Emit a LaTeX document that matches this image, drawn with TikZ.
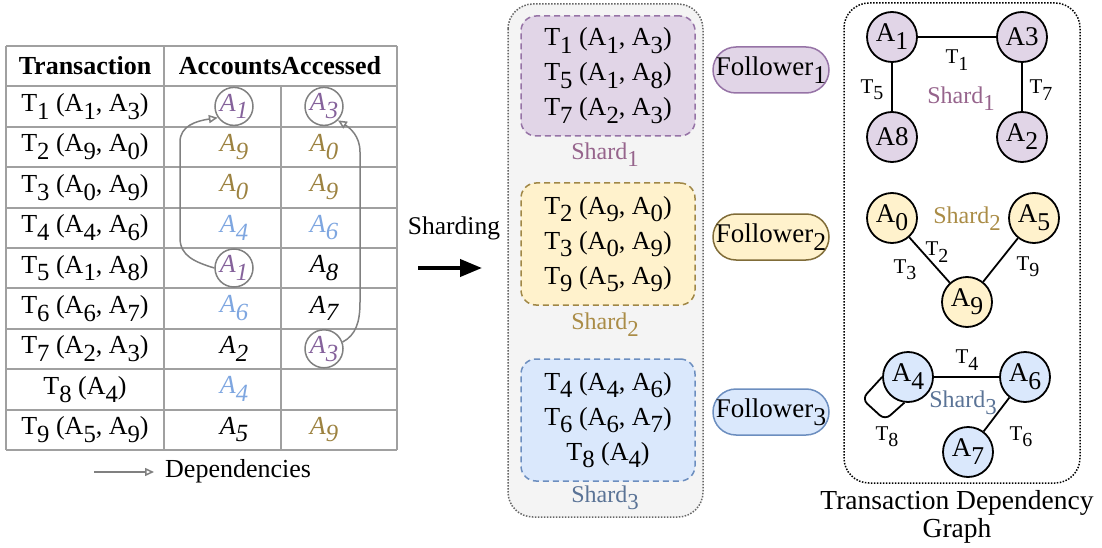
\documentclass[tikz,border=0pt]{standalone}
\usepackage{fontspec}
\setmainfont{Liberation Serif}
\newfontfamily\serf{Liberation Serif}
\usepackage{graphicx}
\usetikzlibrary{arrows.meta}
\newcommand\subs[1]{\raisebox{-0.3em}{\scalebox{0.95}{#1}}}
\definecolor{purT}{RGB}{133,98,155}
\definecolor{purL}{RGB}{150,100,140}
\definecolor{golT}{RGB}{156,130,64}
\definecolor{golL}{RGB}{170,140,70}
\definecolor{bluT}{RGB}{126,166,224}
\definecolor{bluL}{RGB}{90,115,150}
\definecolor{purF}{HTML}{E1D5E7}
\definecolor{purS}{HTML}{9673A6}
\definecolor{golF}{HTML}{FFF2CC}
\definecolor{golS}{RGB}{160,135,70}
\definecolor{bluF}{HTML}{DAE8FC}
\definecolor{bluS}{HTML}{6C8EBF}
\definecolor{gridc}{RGB}{160,160,160}
\definecolor{depc}{RGB}{128,128,128}
\definecolor{bgc}{HTML}{F4F4F4}
\begin{document}
\begin{tikzpicture}[x=1pt,y=-1pt,
  gridline/.style={draw=gridc,line width=2},
  tx/.style={font=\serf\fontsize{26}{30}\selectfont,inner sep=0},
  hdr/.style={font=\serf\fontsize{26}{30}\selectfont\bfseries,inner sep=0},
  cell/.style={font=\serf\fontsize{26}{30}\selectfont\itshape,inner sep=0},
  circ/.style={cell,circle,draw=depc,line width=1.5,minimum size=38},
  dep/.style={draw=depc,line width=1.5,-{Triangle[open,length=9,width=8]}},
  shbox/.style={rounded corners=15,line width=1.5,dash pattern=on 6 off 4,minimum width=174,align=center,font=\serf\fontsize{26}{35}\selectfont},
  shlab/.style={font=\serf\fontsize{24}{28}\selectfont,inner sep=0},
  fol/.style={rounded corners=23,minimum width=116,minimum height=46,line width=1.5,inner sep=0,font=\serf\fontsize{27}{30}\selectfont},
  gnode/.style={circle,draw=black,line width=1.8,minimum size=50,inner sep=0,font=\serf\fontsize{27}{30}\selectfont},
  gedge/.style={draw=black,line width=1.8},
  elab/.style={font=\serf\fontsize{21}{24}\selectfont,inner sep=0}]
\useasboundingbox (0,0) rectangle (1102,548);
% ---------- table ----------
\foreach \k in {0,...,10} \draw[gridline] (6,{46+40.4*\k}) -- (397,{46+40.4*\k});
\draw[gridline] (6,46) -- (6,450);
\draw[gridline] (164,46) -- (164,450);
\draw[gridline] (397,46) -- (397,450);
\draw[gridline] (281,86.4) -- (281,450);
\node[hdr] (h1) at (85,66) {Transaction};
\node[hdr] (h2) at (280,66) {AccountsAccessed};
\node[tx] (t1) at (85,106.4) {T\subs{1} (A\subs{1}, A\subs{3})};
\node[tx] (t2) at (85,146.8) {T\subs{2} (A\subs{9}, A\subs{0})};
\node[tx] (t3) at (85,187.2) {T\subs{3} (A\subs{0}, A\subs{9})};
\node[tx] (t4) at (85,227.6) {T\subs{4} (A\subs{4}, A\subs{6})};
\node[tx] (t5) at (85,268) {T\subs{5} (A\subs{1}, A\subs{8})};
\node[tx] (t6) at (85,308.4) {T\subs{6} (A\subs{6}, A\subs{7})};
\node[tx] (t7) at (85,348.8) {T\subs{7} (A\subs{2}, A\subs{3})};
\node[tx] (t8) at (85,389.2) {T\subs{8} (A\subs{4})};
\node[tx] (t9) at (85,429.6) {T\subs{9} (A\subs{5}, A\subs{9})};
\node[circ,text=purT] (c11) at (234,106.4) {A\subs{1}};
\node[circ,text=purT] (c13) at (324,106.4) {A\subs{3}};
\node[cell,text=golT] (c21) at (234,146.8) {A\subs{9}};
\node[cell,text=golT] (c22) at (324,146.8) {A\subs{0}};
\node[cell,text=golT] (c31) at (234,187.2) {A\subs{0}};
\node[cell,text=golT] (c32) at (324,187.2) {A\subs{9}};
\node[cell,text=bluT] (c41) at (234,227.6) {A\subs{4}};
\node[cell,text=bluT] (c42) at (324,227.6) {A\subs{6}};
\node[circ,text=purT] (c51) at (234,268) {A\subs{1}};
\node[cell] (c52) at (324,268) {A\subs{8}};
\node[cell,text=bluT] (c61) at (234,308.4) {A\subs{6}};
\node[cell] (c62) at (324,308.4) {A\subs{7}};
\node[cell] (c71) at (234,348.8) {A\subs{2}};
\node[circ,text=purT] (c73) at (324,348.8) {A\subs{3}};
\node[cell,text=bluT] (c81) at (234,389.2) {A\subs{4}};
\node[cell] (c91) at (234,429.6) {A\subs{5}};
\node[cell,text=golT] (c92) at (324,429.6) {A\subs{9}};
\draw[dep] (c51.west) .. controls (195,262) and (180,256) .. (180,238) -- (180,142) .. controls (180,126) and (196,121) .. (c11.215);
\draw[dep] (c73.20) .. controls (356,335) and (360,322) .. (360,302) -- (360,152) .. controls (360,136) and (350,128) .. (c13.-45);
\coordinate (lg1) at (94,472);
\coordinate (lg2) at (154,472);
\draw[dep] (lg1) -- (lg2);
\node[font=\serf\fontsize{26}{30}\selectfont,inner sep=0,anchor=west] (lgt) at (165,471) {Dependencies};
% ---------- sharding arrow ----------
\node[font=\serf\fontsize{25.5}{30}\selectfont,inner sep=0] (shl) at (454,228) {Sharding};
\coordinate (sa1) at (418,268);
\coordinate (sa2) at (482,268);
\draw[line width=4,-{Triangle[length=22,width=17]}] (sa1) -- (sa2);
% ---------- shards ----------
\draw[fill=bgc,draw=black!60,line width=1.5,dash pattern=on 1.5 off 1.5,rounded corners=25] (508,4) rectangle (703,517);
\node[shbox,fill=purF,draw=purS,minimum height=120] (s1) at (608,76) {T\subs{1} (A\subs{1}, A\subs{3})\\T\subs{5} (A\subs{1}, A\subs{8})\\T\subs{7} (A\subs{2}, A\subs{3})};
\node[shbox,fill=golF,draw=golS,minimum height=122] (s2) at (608,244) {T\subs{2} (A\subs{9}, A\subs{0})\\T\subs{3} (A\subs{0}, A\subs{9})\\T\subs{9} (A\subs{5}, A\subs{9})};
\node[shbox,fill=bluF,draw=bluS,minimum height=122] (s3) at (608,420) {T\subs{4} (A\subs{4}, A\subs{6})\\T\subs{6} (A\subs{6}, A\subs{7})\\T\subs{8} (A\subs{4})};
\node[shlab,text=purL] (sl1) at (605,155) {Shard\subs{1}};
\node[shlab,text=golL] (sl2) at (605,325) {Shard\subs{2}};
\node[shlab,text=bluL] (sl3) at (605,498) {Shard\subs{3}};
% ---------- followers ----------
\node[fol,fill=purF,draw=purS] (f1) at (771,70) {Follower\subs{1}};
\node[fol,fill=golF,draw=golS!80!black] (f2) at (771,237) {Follower\subs{2}};
\node[fol,fill=bluF,draw=bluS] (f3) at (771,412) {Follower\subs{3}};
% ---------- graph ----------
\draw[draw=black,line width=1.5,dash pattern=on 1.5 off 1.5,rounded corners=25] (844,3) rectangle (1080,483);
\node[gnode,fill=purF] (A1) at (892,37) {A\subs{1}};
\node[gnode,fill=purF] (A3) at (1022,37) {A3};
\node[gnode,fill=purF] (A8) at (892,137) {A8};
\node[gnode,fill=purF] (A2) at (1022,137) {A\subs{2}};
\draw[gedge] (A1) -- (A3);
\draw[gedge] (A1) -- (A8);
\draw[gedge] (A3) -- (A2);
\node[elab] (e1) at (957,60) {T\subs{1}};
\node[elab] (e5) at (872,90) {T\subs{5}};
\node[elab] (e7) at (1041,90) {T\subs{7}};
\node[shlab,text=purL] (g1) at (961,99) {Shard\subs{1}};
\node[gnode,fill=golF] (A0) at (892,218) {A\subs{0}};
\node[gnode,fill=golF] (A5) at (1034,218) {A\subs{5}};
\node[gnode,fill=golF] (A9) at (967,302) {A\subs{9}};
\draw[gedge] (A0) -- (A9);
\draw[gedge] (A5) -- (A9);
\node[elab] (e2) at (937,252) {T\subs{2}};
\node[elab] (e3) at (905,270) {T\subs{3}};
\node[elab] (e9) at (1028,267) {T\subs{9}};
\node[shlab,text=golL] (g2) at (967,219) {Shard\subs{2}};
\node[gnode,fill=bluF] (A4) at (908,377) {A\subs{4}};
\node[gnode,fill=bluF] (A6) at (1025,377) {A\subs{6}};
\node[gnode,fill=bluF] (A7) at (968,452) {A\subs{7}};
\draw[gedge] (A4) -- (A6);
\draw[gedge] (A6) -- (A7);
\draw[gedge,rounded corners=7] (A4.180) -- (862,399) -- (885,420) -- (A4.262);
\node[elab] (e4) at (967,360) {T\subs{4}};
\node[elab] (e6) at (1021,437) {T\subs{6}};
\node[elab] (e8) at (887,437) {T\subs{8}};
\node[shlab,text=bluL] (g3) at (963,403) {Shard\subs{3}};
\node[align=center,font=\serf\fontsize{27.5}{28}\selectfont,inner sep=0] (ttl) at (957,517) {Transaction Dependency\\Graph};
\end{tikzpicture}
\end{document}
